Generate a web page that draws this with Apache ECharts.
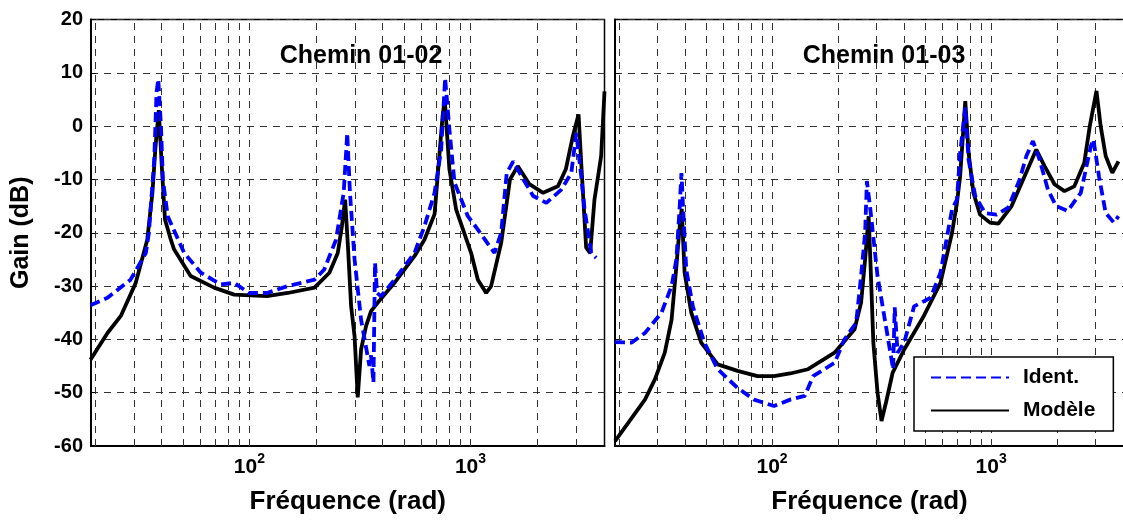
<!DOCTYPE html>
<html>
<head>
<meta charset="utf-8">
<script src="https://cdn.jsdelivr.net/npm/echarts@6/dist/echarts.min.js"></script>
<style>
  html, body { margin: 0; padding: 0; background: #fff; }
  #chart { width: 1123px; height: 521px; }
</style>
</head>
<body>
<div id="chart"></div>
<script>
// values: frequency (rad) and gain (dB)
const identLFreq = [19.1, 22.8, 29, 34, 35.1, 37.1, 38, 38.7, 39.8, 40.6, 42.7, 50.7, 60.3, 74.2, 85.3, 99.7, 120, 149, 197, 218, 246.5, 267, 277, 285, 299, 320, 349, 355, 364, 370, 378, 394, 453, 558, 619, 688, 737, 768, 803, 847, 973, 1080, 1284, 1377, 1459, 1562, 1700, 1922, 2205, 2577, 2858, 3012, 3170, 3282, 3519, 3704];
const identLGain = [-33.6, -32.2, -28.8, -23.8, -20, -6.3, 6.3, 8.8, 0, -10, -16.9, -23.8, -27.5, -29.7, -29.4, -31.3, -31.3, -30, -28.8, -26.9, -21.3, -12.5, -1.3, -12.5, -25, -36.3, -45, -43, -48.1, -25.6, -31.3, -31.9, -28.8, -23.8, -18.8, -12.5, -4.4, 9, -0.6, -10.6, -16.9, -19.4, -23.8, -20, -8.8, -6.6, -9.4, -13.1, -14.4, -11.9, -8.8, -1.3, -9.4, -15.6, -23.8, -24.7];

const modeleLFreq = [19.1, 22.8, 26.2, 30.6, 34.5, 36.4, 37.6, 38.9, 40.2, 41.5, 44.1, 45.6, 54.2, 69.2, 85.3, 120, 149, 197, 230, 251, 262, 271, 279, 288.5, 299, 309, 320, 337, 355, 381, 453, 558, 619, 688, 748, 765, 803, 861, 1007, 1080, 1178, 1240, 1377, 1509, 1637, 1848, 2131, 2486, 2700, 2905, 3083, 3170, 3337, 3480, 3639, 3902, 4040];
const modeleLGain = [-43.8, -38.8, -35.6, -29.4, -21.3, -12.5, -3.8, 3, -8, -17.5, -21.3, -23.1, -28.1, -30.3, -31.6, -31.9, -31.3, -30.3, -27.5, -23.8, -18.8, -13.8, -22.5, -33.8, -39.4, -50.9, -41.9, -37.5, -34.7, -33.1, -29.4, -24.4, -21.3, -16.5, 1.9, 5, -8.1, -15.6, -23.8, -28.8, -31.3, -30, -21.9, -10, -7.5, -10.9, -12.5, -11.3, -8.1, -1.9, 2.2, -6.9, -22.8, -23.8, -13.8, -5.6, 6.5];

const identRFreq = [19.2, 22.9, 26.3, 31.3, 34.8, 36.6, 37.9, 38.6, 39.3, 40.6, 43.5, 49.1, 56.5, 69.6, 82.8, 102, 121, 141, 154, 193, 214, 242, 255, 266, 271, 281, 303, 331, 357, 363, 374, 401, 445, 529, 587, 663, 698, 722, 762, 789, 846, 938, 1059, 1196, 1350, 1448, 1552, 1664, 1816, 1979, 2235, 2566, 2850, 2930, 3106, 3333, 3634, 3813];
const identRGain = [-40.5, -40.6, -38.8, -35, -30, -25, -15, -8.8, -15.6, -26.9, -33.8, -40.6, -45.6, -49.1, -51.3, -52.5, -51.3, -50.6, -46.9, -44.4, -40, -36.9, -28.1, -20, -10.3, -15.6, -28.1, -37.5, -45.6, -34, -42.5, -40.6, -33.8, -32.2, -27.5, -15.6, -13.8, -5, 3.5, -6.3, -13.1, -16.3, -16.6, -15.3, -10, -5.6, -2.8, -6.3, -11.9, -15, -15.9, -12.5, -3.8, -2.5, -9.4, -16.3, -18.1, -16.9];

const modeleRFreq = [19.2, 22.1, 26.3, 29.2, 32.4, 34.8, 36.6, 37.9, 38.7, 39.9, 42.8, 47.5, 56.5, 69.6, 85.8, 102, 121, 146, 193, 238, 255, 266, 276, 281, 290, 303, 316, 331, 355, 401, 493, 587, 663, 698, 722, 762, 789, 830, 890, 988, 1079, 1240, 1400, 1607, 1753, 1946, 2160, 2396, 2660, 2820, 3025, 3162, 3333, 3573, 3813];
const modeleRGain = [-59.1, -55.6, -51.3, -47.5, -42.5, -36.3, -26.3, -18.8, -15.5, -27.5, -35, -40.6, -44.7, -45.9, -46.9, -46.9, -46.4, -45.6, -42.5, -38.1, -33.1, -25, -16.9, -25, -40.6, -50, -55.3, -51.9, -46.3, -41.9, -35.6, -29.4, -20, -14.4, -9.4, 4.7, -5, -12.5, -16.6, -18.1, -18.3, -15, -10, -4.4, -7.5, -10.9, -12.2, -11.3, -6.9, 0, 6.6, 0, -5.6, -8.75, -6.6];

const gridFreqs = [20, 30, 40, 50, 60, 70, 80, 90, 100, 200, 300, 400, 500, 600, 700, 800, 900, 1000, 2000, 3000];
const panelTitles = ['Chemin 01-02', 'Chemin 01-03'];
const seriesNames = ['Ident.', 'Modèle'];

const FONT = '"Liberation Sans", Arial, sans-serif';
const X_MIN = 19.2;
const X_MAX = 4040;

const pairs = (f, g) => f.map((v, i) => [v, g[i]]);

const gridDash = { color: '#333', width: 1, type: [7, 6] };

const makeXAxis = (gi) => ({
  type: 'log',
  logBase: 10,
  gridIndex: gi,
  min: X_MIN,
  max: X_MAX,
  axisLine: { show: true, onZero: false, lineStyle: { color: '#000', width: 2 } },
  axisTick: { show: false },
  splitLine: { show: false },
  axisLabel: {
    margin: 6,
    formatter: (v) => {
      const e = Math.round(Math.log10(v));
      return Math.abs(v - Math.pow(10, e)) < 1e-6 * v ? `{b|10}{s|${e}}` : '';
    },
    rich: {
      b: { fontFamily: FONT, fontWeight: 'bold', fontSize: 21, lineHeight: 21, color: '#000', padding: [10, 0, 0, 0] },
      s: { fontFamily: FONT, fontWeight: 'bold', fontSize: 14, lineHeight: 14, color: '#000', verticalAlign: 'top' },
    },
  },
  name: 'Fréquence (rad)',
  nameLocation: 'middle',
  nameGap: 43,
  nameTextStyle: { fontFamily: FONT, fontWeight: 'bold', fontSize: 26, color: '#000' },
});

const makeYAxis = (gi) => ({
  type: 'value',
  gridIndex: gi,
  min: -60,
  max: 20,
  interval: 10,
  axisLine: { show: true, lineStyle: { color: '#000', width: 2 } },
  axisTick: { show: true, inside: true, length: 5, lineStyle: { color: '#000' } },
  splitLine: { show: true, lineStyle: gridDash },
  axisLabel: {
    show: gi === 0,
    margin: 8,
    fontFamily: FONT,
    fontWeight: 'bold',
    fontSize: 20,
    color: '#000',
  },
  name: gi === 0 ? 'Gain (dB)' : '',
  nameLocation: 'middle',
  nameGap: 57,
  nameTextStyle: { fontFamily: FONT, fontWeight: 'bold', fontSize: 25, color: '#000' },
});

const curve = (name, gi, f, g, dashed) => ({
  name,
  type: 'line',
  xAxisIndex: gi,
  yAxisIndex: gi,
  data: pairs(f, g),
  symbol: 'none',
  z: dashed ? 4 : 3,
  itemStyle: { color: dashed ? '#0000ff' : '#000' },
  lineStyle: dashed
    ? { color: '#0000ff', width: 3.8, type: [10, 5] }
    : { color: '#000', width: 3.8 },
});

// dashed vertical grid at 20, 30, ... (log decades)
const vGrid = (gi) => ({
  type: 'line',
  xAxisIndex: gi,
  yAxisIndex: gi,
  data: [],
  silent: true,
  z: 1,
  markLine: {
    silent: true,
    z: 1,
    symbol: 'none',
    label: { show: false },
    lineStyle: gridDash,
    animation: false,
    data: gridFreqs.map((f) => ({ xAxis: f })),
  },
});

const option = {
  backgroundColor: '#fff',
  animation: false,
  title: panelTitles.map((t, i) => ({
    text: t,
    left: i === 0 ? 356 : 879,
    top: 39,
    textAlign: 'center',
    textStyle: { fontFamily: FONT, fontWeight: 'bold', fontSize: 25, color: '#000' },
  })),
  legend: {
    data: seriesNames,
    orient: 'vertical',
    left: 914,
    top: 357,
    itemWidth: 78,
    itemHeight: 14,
    itemGap: 12,
    padding: [10, 18, 10, 16],
    borderColor: '#000',
    borderWidth: 1.5,
    backgroundColor: '#fff',
    selectedMode: false,
    itemStyle: { opacity: 0, borderWidth: 0 },
    textStyle: { fontFamily: FONT, fontWeight: 'bold', fontSize: 21, color: '#000', padding: [0, 0, 0, 9] },
  },
  grid: [
    { left: 91, top: 19.5, width: 513.5, height: 426.5, outerBoundsMode: 'none', show: true, borderColor: '#000', borderWidth: 1.5 },
    { left: 615, top: 19.5, width: 509, height: 426.5, outerBoundsMode: 'none', show: true, borderColor: '#000', borderWidth: 1.5 },
  ],
  xAxis: [makeXAxis(0), makeXAxis(1)],
  yAxis: [makeYAxis(0), makeYAxis(1)],
  series: [
    vGrid(0),
    vGrid(1),
    curve(seriesNames[1], 0, modeleLFreq, modeleLGain, false),
    curve(seriesNames[0], 0, identLFreq, identLGain, true),
    curve(seriesNames[1], 1, modeleRFreq, modeleRGain, false),
    curve(seriesNames[0], 1, identRFreq, identRGain, true),
  ],
};

const chart = echarts.init(document.getElementById('chart'));
chart.setOption(option);
</script>
</body>
</html>
